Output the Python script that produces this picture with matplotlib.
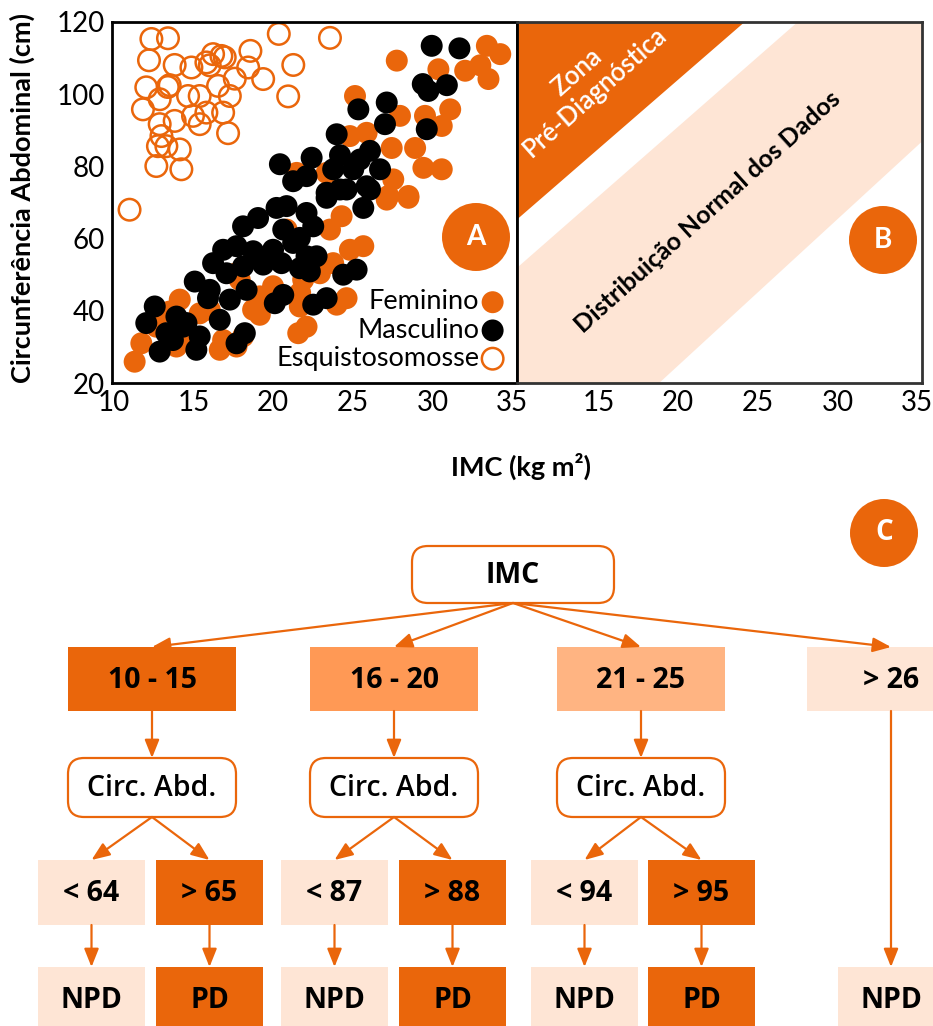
import numpy as np
import matplotlib.pyplot as plt
from matplotlib.patches import FancyBboxPatch, Rectangle, Circle, Polygon

# ---- dados ----
esq_x = [12.37, 13.41, 20.36, 23.57, 12.22, 13.83, 14.88, 15.82, 16.24, 16.76, 16.97, 18.58,
         18.44, 21.27, 12.05, 13.52, 12.89, 15.40, 16.55, 17.60, 17.29, 19.38, 20.95, 11.84,
         13.83, 14.98, 15.40, 15.82, 16.87, 12.89, 13.00, 13.31, 14.15, 12.78, 17.18, 12.68,
         14.25, 14.67, 16.03, 13.40, 11.00]
esq_y = [115.3, 115.5, 116.7, 115.6, 109.4, 108.1, 107.4, 108.8, 111.1, 110.6, 110.2, 112.0,
         107.4, 108.1, 101.9, 102.5, 98.6, 99.5, 102.3, 104.3, 99.5, 104.2, 99.4, 95.8,
         92.6, 94.0, 91.7, 94.9, 94.9, 91.7, 88.4, 85.6, 84.7, 85.6, 89.2, 80.1,
         79.2, 99.5, 108.0, 102.0, 68.0]

fem_x = [27.76, 33.41, 34.25, 30.37, 32.05, 33.51, 31.11, 25.14, 27.96, 29.53, 30.58, 24.82,
         25.87, 27.44, 28.91, 29.43, 30.58, 27.54, 28.49, 27.23, 21.48, 23.36,
         27.13, 28.49, 24.30, 23.57, 20.85, 25.66, 24.82, 23.77, 22.94, 21.89, 20.00, 19.17,
         18.75, 21.68, 22.10, 21.58, 24.61, 23.99, 14.15, 13.52, 12.68, 11.74, 11.32, 15.40,
         16.03, 16.87, 16.66, 17.71, 18.12, 19.17, 14.35, 13.94, 17.91, 17.71, 33.0, 21.7]
fem_y = [109.3, 113.4, 111.1, 106.9, 106.5, 104.2, 95.8, 99.5, 94.0, 94.0, 91.2, 88.4,
         89.3, 85.1, 85.1, 79.6, 79.2, 76.4, 71.8, 71.8, 78.2, 78.2,
         70.8, 71.3, 66.2, 62.5, 62.5, 57.9, 56.9, 53.2, 50.4, 48.6, 46.8, 44.0,
         40.3, 41.2, 35.6, 33.8, 43.5, 41.7, 43.1, 39.8, 35.6, 31.0, 25.9, 39.3,
         40.3, 31.9, 29.2, 30.1, 32.9, 38.9, 32.9, 30.1, 48.6, 50.4, 108.0, 45.0]

masc_x = [29.95, 31.69, 29.39, 29.74, 30.90, 25.35, 27.13, 27.02, 23.99, 29.64, 20.43, 22.42,
          24.20, 26.08, 25.45, 22.10, 21.26, 23.77, 25.03, 26.71, 25.87, 24.61, 23.36,
          25.66, 18.12, 19.06, 20.22, 20.85, 22.10, 22.52, 23.36, 24.20, 26.08, 16.87, 17.71,
          18.75, 20.00, 21.26, 22.10, 22.73, 16.24, 17.08, 18.12, 19.38, 20.53, 21.68, 22.31,
          25.24, 24.40, 15.09, 16.03, 15.92, 17.29, 18.34, 20.64, 20.11, 22.52, 23.36, 12.58,
          12.05, 13.31, 13.94, 14.57, 15.40, 16.66, 12.89, 15.19, 17.71, 18.23, 14.35, 13.72,
          20.64, 21.68]
masc_y = [113.4, 112.7, 102.8, 100.9, 102.5, 95.8, 97.7, 91.7, 88.9, 90.3, 80.6, 82.4,
          83.1, 84.3, 81.9, 77.3, 75.9, 79.2, 79.2, 79.2, 74.5, 73.6, 72.7,
          68.5, 63.4, 65.7, 68.5, 69.0, 67.1, 63.4, 71.3, 73.6, 73.6, 56.9, 57.9,
          56.5, 56.9, 58.8, 55.1, 55.1, 53.2, 50.4, 52.3, 52.8, 53.2, 51.8, 50.9,
          51.4, 50.0, 48.1, 45.8, 43.5, 43.1, 45.8, 44.4, 42.1, 41.7, 43.5, 41.2,
          36.6, 33.8, 38.4, 36.6, 32.9, 37.5, 28.7, 29.2, 31.0, 33.8, 35.6, 31.9,
          62.5, 60.2]

x_ticks_a = [10, 15, 20, 25, 30, 35]
x_ticks_b = [15, 20, 25, 30, 35]
y_ticks = [20, 40, 60, 80, 100, 120]

imc_groups = ['10 - 15', '16 - 20', '21 - 25', '> 26']
cut_low = ['< 64', '< 87', '< 94']
cut_high = ['> 65', '> 88', '> 95']

ORANGE = '#EA660B'
PEACH = '#FEE5D5'
MID1 = '#FF9955'
MID2 = '#FFB482'

W, H = 933, 1026
fig = plt.figure(figsize=(W / 100, H / 100), dpi=100)


def px_rect(l, t, r, b):
    return [l / W, 1 - b / H, (r - l) / W, (b - t) / H]


LATO = ['Lato', 'DejaVu Sans']
FLOW = ['Open Sans', 'DejaVu Sans']

# ---- painel A ----
axA = fig.add_axes(px_rect(112, 22, 517, 383))
axA.scatter(fem_x, fem_y, s=250, c=ORANGE, edgecolors='none', label='Feminino')
axA.scatter(masc_x, masc_y, s=250, c='black', edgecolors='none', label='Masculino')
axA.scatter(esq_x, esq_y, s=240, facecolors='none', edgecolors=ORANGE, linewidths=1.8,
            label='Esquistosomosse')
axA.set_xlim(9.9, 35.3)
axA.set_ylim(20, 120)
axA.set_xticks(x_ticks_a)
axA.set_yticks(y_ticks)
axA.tick_params(length=0, labelsize=20, pad=5)
for lab in axA.get_xticklabels() + axA.get_yticklabels():
    lab.set_family(LATO)
for sp in axA.spines.values():
    sp.set_linewidth(2)
leg = axA.legend(loc='lower right', markerfirst=False, frameon=False,
                 prop={'family': LATO, 'size': 19.5}, handletextpad=0.05,
                 labelspacing=0.12, borderaxespad=0.05, handlelength=0.9)

# ---- painel B ----
axB = fig.add_axes(px_rect(517, 22, 922, 383))
axB.add_patch(Polygon([(0, 0.319), (0.693, 1), (1, 1), (1, 0.669), (0.351, 0), (0, 0)],
                      closed=True, transform=axB.transAxes, fc=PEACH, ec='none'))
axB.add_patch(Polygon([(0, 1), (0.562, 1), (0, 0.453)], closed=True,
                      transform=axB.transAxes, fc=ORANGE, ec='none'))
axB.set_xlim(9.9, 35.3)
axB.set_ylim(20, 120)
axB.set_xticks(x_ticks_b)
axB.set_yticks([])
axB.tick_params(length=0, labelsize=20, pad=5)
for lab in axB.get_xticklabels():
    lab.set_family(LATO)
for sp in axB.spines.values():
    sp.set_linewidth(2)
    sp.set_color('#333333')
axB.spines['left'].set_color('black')

fig.text(22 / W, 1 - 198 / H, 'Circunferência Abdominal (cm)', rotation=90,
         ha='center', va='center', fontsize=19.5, fontweight='bold', family=LATO)
fig.text(521 / W, 1 - 466 / H, 'IMC (kg m²)', ha='center', va='center',
         fontsize=19.5, fontweight='bold', family=LATO)

# ---- camada em pixels (etiquetas e fluxograma) ----
ov = fig.add_axes([0, 0, 1, 1])
ov.set_xlim(0, W)
ov.set_ylim(H, 0)
ov.axis('off')

ov.text(586, 82, 'Zona\nPré-Diagnóstica', rotation=41.5, ha='center', va='center',
        multialignment='center', color='white', fontsize=18.5, family=LATO,
        fontweight='semibold', rotation_mode='anchor', linespacing=1.05)
ov.text(708, 212, 'Distribuição Normal dos Dados', rotation=42, ha='center', va='center',
        color='black', fontsize=18, fontweight='bold', family=LATO, rotation_mode='anchor')

for (cx, cy), lab, fam in [((476, 237), 'A', LATO), ((883, 240), 'B', LATO),
                           ((884, 533), 'C', FLOW)]:
    ov.add_patch(Circle((cx, cy), 34, fc=ORANGE, ec='none'))
    ov.text(cx, cy, lab, color='white', ha='center', va='center', fontsize=20,
            fontweight='bold', family=fam)


def box(cx, top, w, h, fc, txt, rounded=False, weight='bold'):
    if rounded:
        ov.add_patch(FancyBboxPatch((cx - w / 2, top), w, h,
                                    boxstyle='round,pad=0,rounding_size=16',
                                    fc='white', ec=ORANGE, lw=1.6))
    else:
        ov.add_patch(Rectangle((cx - w / 2, top), w, h, fc=fc, ec='none'))
    ov.text(cx, top + h / 2 + 1, txt, ha='center', va='center', fontsize=20.5,
            fontweight=weight, family=FLOW, color='black')


def arrow(x0, y0, x1, y1):
    ov.annotate('', xy=(x1, y1), xytext=(x0, y0),
                arrowprops=dict(arrowstyle='-|>,head_length=0.55,head_width=0.22',
                                color=ORANGE, lw=1.6, mutation_scale=20,
                                shrinkA=0, shrinkB=0))


imc_cx, imc_top, imc_bot = 513, 546, 603
box(imc_cx, imc_top, 202, imc_bot - imc_top, 'white', 'IMC', rounded=True)

lvl1_cx = [152, 394, 641, 891]
lvl1_fc = [ORANGE, MID1, MID2, PEACH]
for cx, fc, txt in zip(lvl1_cx, lvl1_fc, imc_groups):
    box(cx, 647, 168, 64, fc, txt)
    arrow(imc_cx, imc_bot, cx, 647)

lvl3_cx = [[91.5, 209.5], [334.5, 452.5], [584.5, 701.5]]
for i in range(3):
    cx = lvl1_cx[i]
    arrow(cx, 711, cx, 758)
    box(cx, 758, 168, 59, 'white', 'Circ. Abd.', rounded=True, weight='semibold')
    lo, hi = lvl3_cx[i]
    arrow(cx, 817, lo, 860)
    arrow(cx, 817, hi, 860)
    box(lo, 860, 107, 65, PEACH, cut_low[i])
    box(hi, 860, 107, 65, ORANGE, cut_high[i])
    arrow(lo, 925, lo, 967)
    arrow(hi, 925, hi, 967)
    box(lo, 967, 107, 66, PEACH, 'NPD')
    box(hi, 967, 107, 66, ORANGE, 'PD')

arrow(lvl1_cx[3], 711, lvl1_cx[3], 967)
box(lvl1_cx[3], 967, 107, 66, PEACH, 'NPD')

fig.savefig('out.png', dpi=100)
